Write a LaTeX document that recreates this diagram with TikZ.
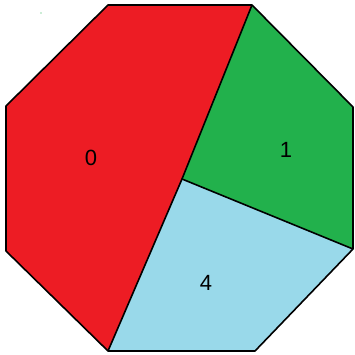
\documentclass[tikz,border=0pt]{standalone}
\usepackage{fontspec}
\setmainfont{Liberation Sans}
\definecolor{cred}{HTML}{ED1C24}
\definecolor{cgreen}{HTML}{22B14C}
\definecolor{cblue}{HTML}{99D9EA}
\begin{document}
\begin{tikzpicture}[x=1pt,y=-1pt,
  region/.style={draw=black,line width=1.6pt,line join=round},
  lab/.style={font=\fontsize{22}{22}\selectfont,inner sep=0pt}]
\useasboundingbox (0,0) rectangle (355,354);
\coordinate (tl) at (108,5);
\coordinate (tr) at (252,5);
\coordinate (ru) at (353,107);
\coordinate (rl) at (353,249);
\coordinate (br) at (255,351);
\coordinate (bl) at (108,351);
\coordinate (ll) at (6,251);
\coordinate (lu) at (6,106);
\coordinate (c) at (182,179);
\fill[cred] (tl) -- (tr) -- (c) -- (bl) -- (ll) -- (lu) -- cycle;
\fill[cgreen] (tr) -- (ru) -- (rl) -- (c) -- cycle;
\fill[cblue] (c) -- (rl) -- (br) -- (bl) -- cycle;
\draw[region] (tl) -- (tr) -- (ru) -- (rl) -- (br) -- (bl) -- (ll) -- (lu) -- cycle;
\draw[region] (tr) -- (c) -- (bl);
\draw[region] (c) -- (rl);
\fill[cgreen] (41,13) circle (0.6);
\node[lab] (n0) at (91,158) {0};
\node[lab] (n1) at (286,150) {1};
\node[lab] (n4) at (206,283) {4};
\end{tikzpicture}
\end{document}
